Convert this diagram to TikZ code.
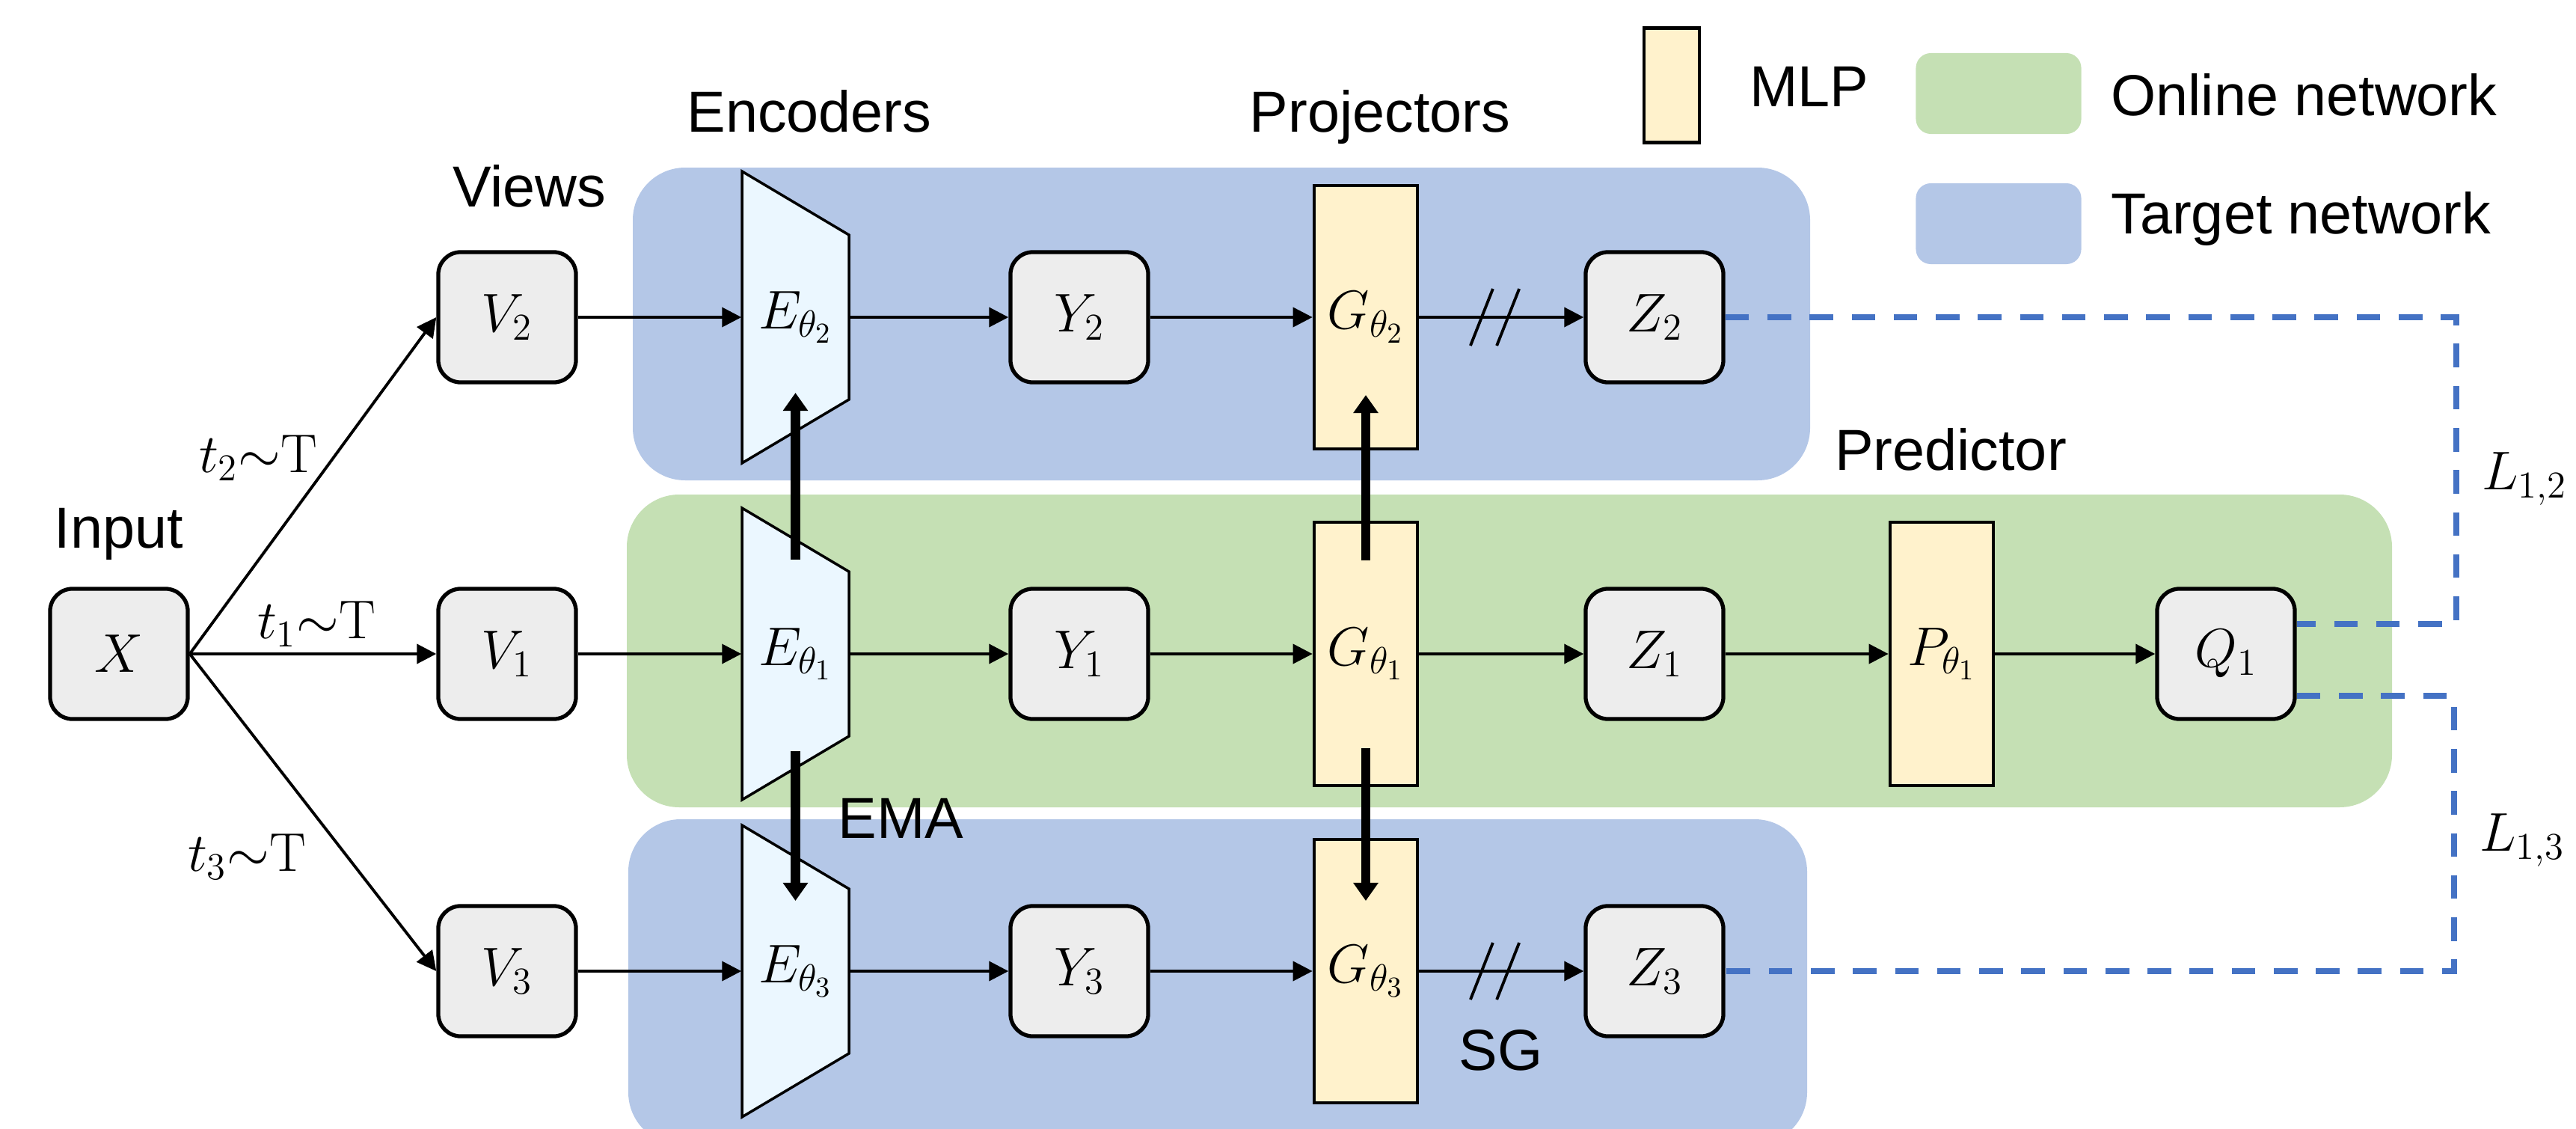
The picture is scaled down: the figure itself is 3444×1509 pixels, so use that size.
\documentclass[tikz,border=0pt]{standalone}
\usepackage{amsmath}
\usepackage[no-math]{fontspec}
\setmainfont{Liberation Sans}
\usepackage{tikz}
\usetikzlibrary{arrows.meta,calc}

\definecolor{onlinegreen}{HTML}{C5E0B4}
\definecolor{targetblue}{HTML}{B4C7E7}
\definecolor{mlpyellow}{HTML}{FFF2CC}
\definecolor{encblue}{HTML}{EBF7FF}
\definecolor{boxgray}{HTML}{EDEDED}
\definecolor{lossblue}{HTML}{4472C4}

\begin{document}
\begin{tikzpicture}[x=0.01cm, y=-0.01cm, font=\fontsize{22}{26}\selectfont,
        var/.style={draw, line width=1.5pt, rounded corners=0.3cm, fill=boxgray,
            minimum width=1.84cm, minimum height=1.74cm, inner sep=0pt},
        mlp/.style={draw, line width=1.3pt, fill=mlpyellow,
            minimum width=1.38cm, minimum height=3.52cm, inner sep=0pt},
        enc/.style={minimum width=1.43cm, minimum height=2.2cm, inner sep=0pt},
        key/.style={rounded corners=0.2cm, minimum width=2.21cm, minimum height=1.08cm},
        flow/.style={-{Triangle[length=0.26cm,width=0.26cm]}, line width=1.1pt},
        push/.style={-{Triangle[length=0.24cm,width=0.32cm]}, line width=3.6pt},
        loss/.style={draw=lossblue, line width=2.2pt, dash pattern=on 9pt off 7pt},
        lbl/.style={anchor=base}]
    \useasboundingbox (0,0) rectangle (3444,1509);

    % target / online / target panels
    \fill[targetblue, rounded corners=0.7cm] (846,224) rectangle (2420,642);
    \fill[onlinegreen, rounded corners=0.7cm] (838,661) rectangle (3198,1079);
    \fill[targetblue, rounded corners=0.7cm] (840,1095) rectangle (2416,1530);

    % legend
    \node[mlp, minimum width=0.74cm, minimum height=1.53cm] (mlpkey) at (2235,114) {};
    \node[lbl, anchor=base west] (mlptext) at (2327,143) {MLP};
    \node[key, fill=onlinegreen] (onkey) at (2672,125) {};
    \node[lbl, anchor=base west] (ontext) at (2810,154) {Online network};
    \node[key, fill=targetblue] (tgkey) at (2672,299) {};
    \node[lbl, anchor=base west] (tgtext) at (2810,312) {Target network};

    % column titles
    \node[lbl] (inputlbl) at (159,732) {Input};
    \node[lbl] (viewslbl) at (708,276) {Views};
    \node[lbl] (enclbl) at (1082,176) {Encoders};
    \node[lbl] (projlbl) at (1845,176) {Projectors};
    \node[lbl] (predlbl) at (2608,628) {Predictor};

    % input and views
    \node[var] (x) at (159,874) {$X$};
    \node[var] (v2) at (678,424) {$V_2$};
    \node[var] (v1) at (678,874) {$V_1$};
    \node[var] (v3) at (678,1298) {$V_3$};

    % one row per view: encoder, representation, projector
    \foreach \n/\y in {2/424, 1/874, 3/1298} {
        \draw[fill=encblue, line width=1pt] (992,{\y-195}) -- (1135,{\y-110})
            -- (1135,{\y+110}) -- (992,{\y+195}) -- cycle;
        \node[enc] (e\n) at (1063.5,\y) {$E_{\theta_\n}$};
        \node[var] (y\n) at (1443,\y) {$Y_\n$};
        \node[mlp] (g\n) at (1826,\y) {$G_{\theta_\n}$};
        \node[var] (z\n) at (2212,\y) {$Z_\n$};
    }
    \node[mlp] (p1) at (2596,874) {$P_{\theta_1}$};
    \node[var] (q1) at (2976,874) {$Q_1$};

    % augmentations
    \draw[flow] (x.east) -- (v2.west);
    \draw[flow] (x.east) -- (v1.west);
    \draw[flow] (x.east) -- (v3.west);
    \node (t2) at (345,612) {$t_2{\sim}\mathrm{T}$};
    \node (t1) at (423,834) {$t_1{\sim}\mathrm{T}$};
    \node (t3) at (330,1145) {$t_3{\sim}\mathrm{T}$};

    \foreach \n in {1,2,3} {
        \draw[flow] (v\n) -- (e\n);
        \draw[flow] (e\n) -- (y\n);
        \draw[flow] (y\n) -- (g\n);
        \draw[flow] (g\n) -- (z\n);
    }
    \draw[flow] (z1) -- (p1);
    \draw[flow] (p1) -- (q1);

    % stop gradient marks
    \foreach \r in {2,3}
        \foreach \f in {0.38,0.54}
            \draw[line width=1.1pt] ($(g\r.east)!\f!(z\r.west)+(-15,38)$) -- ++(30,-76);
    \node[lbl, anchor=base west] (sglbl) at (1938,1430) {SG};

    % weight updates from the online branch
    \draw[push] ($(e1.center)+(0,-126)$) -- ($(e2.center)+(0,101)$);
    \draw[push] ($(e1.center)+(0,130)$) -- ($(e3.center)+(0,-94)$);
    \draw[push] ($(g1.center)+(0,-125)$) -- ($(g2.center)+(0,104)$);
    \draw[push] ($(g1.center)+(0,126)$) -- ($(g3.center)+(0,-94)$);
    \node[lbl, anchor=base west] (emalbl) at (1108,1120) {EMA};

    % losses
    \coordinate (k2) at (3284,424);
    \coordinate (k3) at (3281,1298);
    \draw[loss] (z2.east) -- (k2) |- ($(q1.east)+(0,-40)$);
    \draw[loss] ($(q1.east)+(0,56)$) -| (k3) -- (z3.east);
    \node (l12) at (3375,640) {$L_{1,2}$};
    \node (l13) at (3372,1123) {$L_{1,3}$};
\end{tikzpicture}
\end{document}
